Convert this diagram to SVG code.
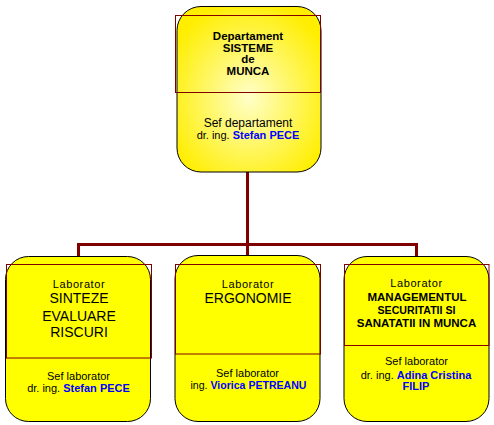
<svg xmlns="http://www.w3.org/2000/svg" width="494" height="425" viewBox="0 0 494 425">
<style>
.box{stroke:#000;stroke-width:1}
.flat{fill:#ffff00}
.hdr{fill:none;stroke:#800000;stroke-width:1}
.conn{stroke:#800000;stroke-width:3;fill:none}
text{font-family:"Liberation Sans",Arial,sans-serif;text-anchor:middle;fill:#000}
.b{font-weight:bold}
.big{font-size:14px}
.sm{font-size:11px}
.md{font-size:11.5px}
.blue{fill:#0000ff;font-weight:bold}
</style>
<defs>
<radialGradient id="g" cx="0.5" cy="0.55" r="0.6">
<stop offset="0" stop-color="#ffffc8"/>
<stop offset="1" stop-color="#ffee00"/>
</radialGradient>
</defs>
<rect width="494" height="425" fill="#fff"/>
<g id="connectors">
<path class="conn" d="M247.5 172V244.5M78.5 244.5H416.5M78.5 243V256M247.5 243V255M416.5 243V256"/>
</g>
<g id="dept">
<rect class="box" x="177" y="6.5" width="144" height="165.5" rx="24" fill="url(#g)"/>
<rect class="hdr" x="175.5" y="15.5" width="145" height="77"/>
<text class="b md" x="248" y="40">Departament</text>
<text class="b md" x="248" y="51.5">SISTEME</text>
<text class="b md" x="248" y="63">de</text>
<text class="b md" x="248" y="75">MUNCA</text>
<text x="248" y="127" style="font-size:12px">Sef departament</text>
<text class="sm" x="248" y="138.5">dr. ing. <tspan class="blue">Stefan PECE</tspan></text>
</g>
<g id="lab1">
<rect class="box flat" x="5.5" y="256.5" width="145" height="165" rx="23"/>
<rect class="hdr" x="6.5" y="264.5" width="145" height="93.5"/>
<text class="sm" x="79" y="288" letter-spacing="0.6">Laborator</text>
<text class="big" x="79" y="303">SINTEZE</text>
<text class="big" x="79" y="320.5">EVALUARE</text>
<text class="big" x="79" y="337">RISCURI</text>
<text class="sm" x="78.5" y="380">Sef laborator</text>
<text class="sm" x="78.5" y="392">dr. ing. <tspan class="blue">Stefan PECE</tspan></text>
</g>
<g id="lab2">
<rect class="box flat" x="175" y="255.5" width="145" height="166" rx="23"/>
<rect class="hdr" x="175.5" y="264.5" width="145" height="89.5"/>
<text class="sm" x="248" y="288" letter-spacing="0.6">Laborator</text>
<text class="big" x="248" y="303">ERGONOMIE</text>
<text class="sm" x="247.5" y="377">Sef laborator</text>
<text class="sm" x="248.5" y="389" textLength="116" lengthAdjust="spacingAndGlyphs">ing. <tspan class="blue">Viorica PETREANU</tspan></text>
</g>
<g id="lab3">
<rect class="box flat" x="344" y="256.5" width="145" height="165" rx="23"/>
<rect class="hdr" x="344.5" y="264.5" width="144.5" height="81"/>
<text class="sm" x="416.5" y="287" letter-spacing="0.6">Laborator</text>
<text class="b md" x="417" y="301">MANAGEMENTUL</text>
<text class="b md" x="416.5" y="314" textLength="78" lengthAdjust="spacingAndGlyphs">SECURITATII SI</text>
<text class="b md" x="416.5" y="327">SANATATII IN MUNCA</text>
<text class="sm" x="416.5" y="365">Sef laborator</text>
<text class="sm" x="416" y="379">dr. ing. <tspan class="blue">Adina Cristina</tspan></text>
<text class="sm blue" x="416" y="390">FILIP</text>
</g>
</svg>
